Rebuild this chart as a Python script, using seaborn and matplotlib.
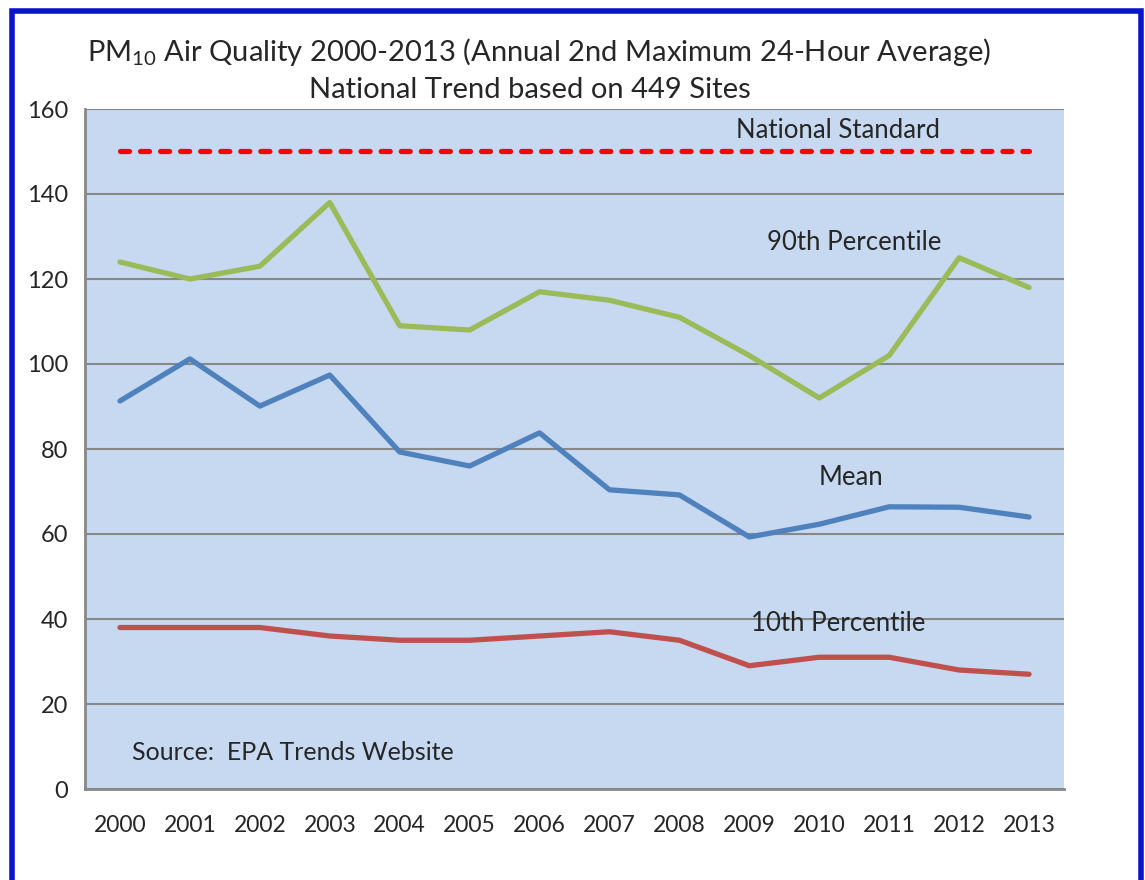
import matplotlib
matplotlib.use("Agg")
import matplotlib.pyplot as plt
import seaborn as sns
import pandas as pd
from matplotlib.patches import Rectangle
from matplotlib.ticker import MultipleLocator

# values
years = list(range(2000, 2014))
p90 = [124, 120, 123, 138, 109, 108, 117, 115, 111, 102, 92, 102, 125, 118]
mean = [91.3, 101.2, 90.1, 97.4, 79.3, 76.0, 83.8, 70.4, 69.2, 59.3, 62.3, 66.4, 66.3, 64.0]
p10 = [38, 38, 38, 36, 35, 35, 36, 37, 35, 29, 31, 31, 28, 27]
standard = [150] * len(years)

df = pd.DataFrame({"year": years, "90th Percentile": p90, "Mean": mean,
                   "10th Percentile": p10, "National Standard": standard})
long = df.melt(id_vars="year", var_name="series", value_name="value")

sns.set_style("white")
plt.rcParams["font.family"] = ["Lato", "DejaVu Sans"]

fig = plt.figure(figsize=(11.45, 8.8), dpi=100)
ax = fig.add_axes([85 / 1145, 1 - 789 / 880, (1064 - 85) / 1145, (789 - 109) / 880])
ax.set_facecolor("#C6D9F0")

palette = {"90th Percentile": "#9BBB59", "Mean": "#4F81BD",
           "10th Percentile": "#C0504D", "National Standard": "#FF0000"}
sns.lineplot(data=long[long.series != "National Standard"], x="year", y="value",
             hue="series", palette=palette, lw=3.8, ax=ax, legend=False,
             solid_capstyle="round", zorder=3)
sns.lineplot(data=long[long.series == "National Standard"], x="year", y="value",
             color=palette["National Standard"], lw=3.8, ax=ax, legend=False,
             zorder=3)
ax.lines[-1].set_dashes([1.7, 2.1])
ax.lines[-1].set_dash_capstyle("round")

ax.set_xlim(1999.5, 2013.5)
ax.set_ylim(0, 160)
ax.yaxis.set_major_locator(MultipleLocator(20))
ax.set_xticks(years)
ax.set_xticklabels([str(y) for y in years])
ax.set_xticks([y + 0.5 for y in range(1999, 2014)], minor=True)
ax.tick_params(axis="x", which="major", length=0, pad=19, labelsize=16.5)
ax.tick_params(axis="x", which="minor", length=7, width=1.5, color="#888888", direction="out")
ax.tick_params(axis="y", length=7, width=1.5, color="#888888", direction="out", labelsize=17, pad=5)
ax.grid(axis="y", color="#888888", lw=1.5)
ax.set_axisbelow(True)
ax.set_xlabel("")
ax.set_ylabel("")
for side in ["top", "right"]:
    ax.spines[side].set_visible(False)
for side in ["left", "bottom"]:
    ax.spines[side].set_color("#888888")
    ax.spines[side].set_linewidth(2)

ax.text(2010.27, 155, "National Standard", fontsize=18.5, ha="center", va="center")
ax.text(2010.5, 128.7, "90th Percentile", fontsize=18.5, ha="center", va="center")
ax.text(2010.45, 73.2, "Mean", fontsize=18.5, ha="center", va="center")
ax.text(2010.27, 39, "10th Percentile", fontsize=18.5, ha="center", va="center")
ax.text(2000.17, 8.7, "Source:  EPA Trends Website", fontsize=18, ha="left", va="center")

fig.text(539 / 1145, 1 - 52 / 880,
         r"PM$_{\mathregular{10}}$ Air Quality 2000-2013 (Annual 2nd Maximum 24-Hour Average)",
         fontsize=21, ha="center", va="center")
fig.text(530 / 1145, 1 - 90 / 880, "National Trend based on 449 Sites",
         fontsize=21, ha="center", va="center")

fig.patches.append(Rectangle((12 / 1145, -0.05), (1141 - 12) / 1145, 1.05 - 11 / 880,
                             transform=fig.transFigure, fill=False,
                             edgecolor="#0A14C8", lw=4, figure=fig))

fig.savefig("out.png", dpi=100)
